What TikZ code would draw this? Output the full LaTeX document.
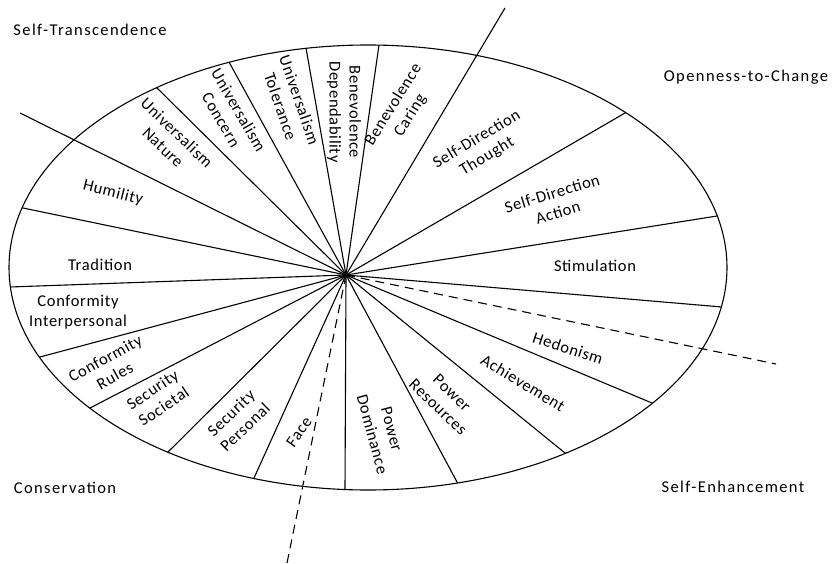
\documentclass[tikz,border=0pt]{standalone}
\usepackage{fontspec}
\setmainfont{Carlito}
\newfontfamily\labfont{Carlito}[LetterSpace=4]
\newfontfamily\ttlfont{Carlito}[LetterSpace=8.5]
\usetikzlibrary{calc}
\begin{document}
\begin{tikzpicture}[x=1pt,y=-1pt,line width=1.1pt,
  lab/.style={font=\labfont\fontsize{16.5}{20}\selectfont,align=center,inner sep=0pt},
  ttl/.style={font=\ttlfont\fontsize{16.5}{20}\selectfont,inner sep=0pt},
  divider/.style={line width=1.1pt},
  dashdiv/.style={line width=1.1pt,dash pattern=on 9pt off 6pt}]
\useasboundingbox (0,0) rectangle (835,564);
\coordinate (C) at (346,275);
\begin{scope}
  \clip (368,267.5) ellipse [x radius=359pt, y radius=222.5pt];
  \foreach \px/\py in {379/45,625/113,717/216,722/307,652/403,565/453,457/482,345/490,254/478,168/452,92/407,40/357,10/287,23/208,157/88,229/62,306/48}
    \draw[divider] (C) -- ($(C)!2!(\px,\py)$);
\end{scope}
\draw (368,267.5) ellipse [x radius=359pt, y radius=222.5pt];
\coordinate (E1) at (20,113);
\coordinate (E2) at (505,8);
\coordinate (D1) at (776,364);
\coordinate (D2) at (287,563);
\draw[divider] (C) -- (E1);
\draw[divider] (C) -- (E2);
\draw[dashdiv] (C) -- (D1);
\draw[dashdiv] (C) -- (D2);
% quadrant titles
\node[ttl] (st) at (90,30) {Self-Transcendence};
\node[ttl] (oc) at (746,77) {Openness-to-Change};
\node[ttl] (cv) at (65,488) {Conservation};
\node[ttl] (se) at (733,487) {Self-Enhancement};
% sector labels
\node[lab,rotate=-44] (un) at (170,140) {Universalism\\Nature};
\node[lab,rotate=-60] (uc) at (230,115) {Universalism\\Concern};
\node[lab,rotate=-71] (ut) at (290,103) {Universalism\\Tolerance};
\node[lab,rotate=-90] (bd) at (344,112) {Benevolence\\Dependability};
\node[lab,rotate=58] (bc) at (402,110) {Benevolence\\Caring};
\node[lab,rotate=31] (sdt) at (482,148) {Self-Direction\\Thought};
\node[lab,rotate=17] (sda) at (555,203) {Self-Direction\\Action};
\node[lab] (sti) at (595,266) {Stimulation};
\node[lab,rotate=-18] (hed) at (568,348) {Hedonism};
\node[lab,rotate=-31] (ach) at (523,383) {Achievement};
\node[lab,rotate=-44] (pr) at (445,400) {Power\\Resources};
\node[lab,rotate=-75] (pd) at (382,432) {Power\\Dominance};
\node[lab,rotate=55] (fa) at (299,432) {Face};
\node[lab,rotate=44] (sp) at (238,420) {Security\\Personal};
\node[lab,rotate=34] (ss) at (158,398) {Security\\Societal};
\node[lab,rotate=29] (cr) at (110,367) {Conformity\\Rules};
\node[lab] (ci) at (78,312) {Conformity\\Interpersonal};
\node[lab] (tr) at (100,265) {Tradition};
\node[lab,rotate=-14] (hu) at (113,193) {Humility};
\end{tikzpicture}
\end{document}
